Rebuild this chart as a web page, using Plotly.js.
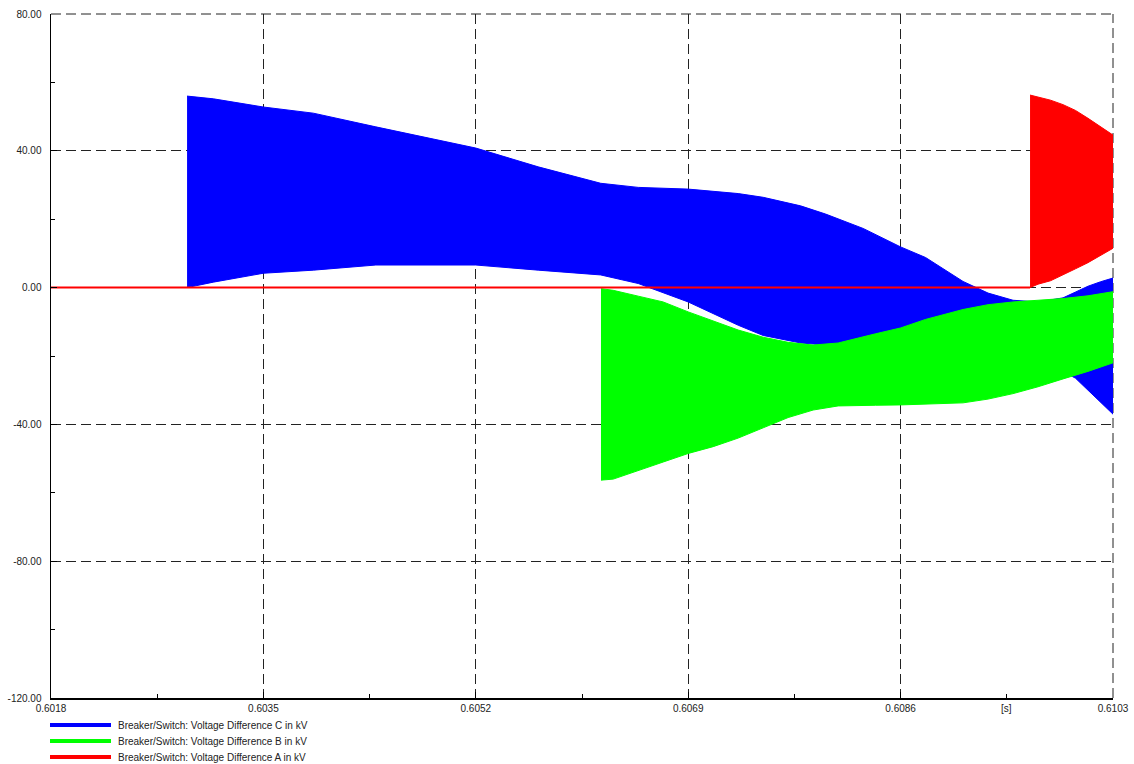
<!DOCTYPE html>
<html>
<head>
<meta charset="utf-8">
<script src="https://cdn.plot.ly/plotly-3.0.1.min.js"></script>
<style>html,body{margin:0;padding:0;background:#fff;}#chart{width:1134px;height:764px;}</style>
</head>
<body>
<div id="chart"></div>
<script>
// ---- Data (time in s, voltage difference in kV), envelopes ----
const seriesNames = [
  "Breaker/Switch: Voltage Difference C in kV",
  "Breaker/Switch: Voltage Difference B in kV",
  "Breaker/Switch: Voltage Difference A in kV"
];
const seriesColors = ["#0000FF", "#00FF00", "#FF0000"];

// Phase C (blue) oscillation envelope
const tC = [0.602889, 0.6031, 0.6035, 0.6039, 0.6044, 0.6052, 0.6057, 0.6062, 0.6065, 0.6069,
            0.6073, 0.6075, 0.6078, 0.6080, 0.6083, 0.6086, 0.6088, 0.6091, 0.6093, 0.6095,
            0.6097, 0.6099, 0.6100, 0.6101, 0.6102, 0.6103];
const upperC = [56.0, 55.2, 52.8, 51.0, 47.0, 40.8, 35.3, 30.5, 29.3, 28.8,
                27.5, 26.4, 23.9, 21.5, 17.3, 11.9, 8.8, 1.8, -1.6, -3.7,
                -4.2, -3.0, -1.3, 0.4, 1.7, 2.8];
const lowerC = [0.0, 1.6, 4.2, 5.1, 6.6, 6.6, 5.1, 3.7, 1.2, -4.2,
                -11.0, -14.0, -16.2, -16.8, -16.6, -16.2, -16.0, -16.0, -16.5, -18.0,
                -21.0, -24.5, -26.5, -30.0, -33.5, -37.0];

// Phase B (green) oscillation envelope
const tB = [0.606202, 0.6063, 0.6065, 0.6067, 0.6069, 0.6071, 0.6073, 0.6075, 0.6077, 0.6079,
            0.6081, 0.6084, 0.6086, 0.6088, 0.6091, 0.6093, 0.6095, 0.6097, 0.6099, 0.6101, 0.6103];
const upperB = [-0.3, -0.8, -2.5, -4.2, -7.1, -9.8, -12.4, -14.5, -16.0, -16.8,
                -16.2, -13.5, -11.8, -9.3, -6.4, -5.0, -4.2, -3.7, -3.2, -2.4, -1.2];
const lowerB = [-56.3, -56.0, -53.5, -51.0, -48.5, -46.5, -44.0, -41.0, -38.0, -35.8,
                -34.6, -34.4, -34.3, -34.1, -33.7, -32.6, -31.0, -29.0, -26.7, -24.5, -22.0];

// Phase A (red): flat at zero, then oscillation envelope
const tAflat = [0.6018, 0.609636];
const vAflat = [0, 0];
const tA = [0.609636, 0.6097, 0.6098, 0.6099, 0.6100, 0.6101, 0.6102, 0.6103];
const upperA = [56.3, 55.8, 54.8, 53.5, 51.8, 49.5, 47.0, 44.6];
const lowerA = [0.0, 1.0, 2.0, 3.7, 5.5, 7.3, 9.3, 11.5];

// Axis ticks
const xTicks = [0.6018, 0.6035, 0.6052, 0.6069, 0.6086, 0.6103];
const xTickText = ["0.6018", "0.6035", "0.6052", "0.6069", "0.6086", "0.6103"];
const xMinor = [0.60265, 0.60435, 0.60605, 0.60775, 0.60945];
const yTicks = [-120, -80, -40, 0, 40, 80];
const yTickText = ["-120.00", "-80.00", "-40.00", "0.00", "40.00", "80.00"];
const yMinor = [-100, -60, -20, 20, 60];
const xUnitLabel = "[s]";

// ---- Build traces ----
function band(t, up, lo, color) {
  const x = t.concat(t.slice().reverse());
  const y = up.concat(lo.slice().reverse());
  return {
    x: x, y: y, type: "scatter", mode: "lines", fill: "toself",
    fillcolor: color, line: {color: color, width: 1},
    hoverinfo: "skip", showlegend: false
  };
}

const traces = [
  band(tC, upperC, lowerC, seriesColors[0]),
  band(tB, upperB, lowerB, seriesColors[1]),
  {x: tAflat, y: vAflat, type: "scatter", mode: "lines",
   line: {color: seriesColors[2], width: 2}, showlegend: false, hoverinfo: "skip"},
  band(tA, upperA, lowerA, seriesColors[2])
];

// ---- Legend drawn below the plot ----
const W = 1134, H = 764, mL = 51, mR = 21, mT = 14, mB = 66;
const pw = W - mL - mR, ph = H - mT - mB;
function px2x(p) { return (p - mL) / pw; }
function py2y(p) { return (H - mB - p) / ph; }
const legendY = [725, 741, 757];
const shapes = [
  // dashed grid lines along the top and right edges
  {type: "line", xref: "paper", yref: "paper", x0: 0, x1: 1, y0: 1, y1: 1, layer: "below",
   line: {color: "#222", width: 1, dash: "10px,5px"}},
  {type: "line", xref: "paper", yref: "paper", x0: 1, x1: 1, y0: 0, y1: 1, layer: "below",
   line: {color: "#222", width: 1, dash: "10px,5px"}}
];
const annotations = [];
for (let i = 0; i < 3; i++) {
  shapes.push({type: "line", xref: "paper", yref: "paper",
    x0: px2x(50), x1: px2x(111), y0: py2y(legendY[i]), y1: py2y(legendY[i]),
    line: {color: seriesColors[i], width: 4}});
  annotations.push({xref: "paper", yref: "paper", x: px2x(116), y: py2y(legendY[i]),
    xanchor: "left", yanchor: "middle", showarrow: false, text: seriesNames[i],
    font: {family: "Liberation Sans, Arial, sans-serif", size: 10, color: "#222"}});
}
annotations.push({xref: "x", yref: "paper", x: xMinor[4], y: 0, yanchor: "top", yshift: -3,
  showarrow: false, text: xUnitLabel,
  font: {family: "Liberation Sans, Arial, sans-serif", size: 10, color: "#222"}});

const tickFont = {family: "Liberation Sans, Arial, sans-serif", size: 10, color: "#222"};

const layout = {
  width: W, height: H,
  margin: {l: mL, r: mR, t: mT, b: mB, pad: 0},
  paper_bgcolor: "#fff", plot_bgcolor: "#fff",
  showlegend: false,
  xaxis: {
    range: [0.6018, 0.6103], tickmode: "array", tickvals: xTicks, ticktext: xTickText,
    ticks: "inside", ticklen: 6, tickcolor: "#000", tickwidth: 1,
    showgrid: true, gridcolor: "#222", gridwidth: 1, griddash: "10px,5px",
    zeroline: false, showline: true, linecolor: "#000", linewidth: 1.5,
    tickfont: tickFont, automargin: false,
    minor: {tickmode: "array", tickvals: xMinor, ticks: "inside", ticklen: 4, tickcolor: "#000", showgrid: false}
  },
  yaxis: {
    range: [-120, 80], tickmode: "array", tickvals: yTicks, ticktext: yTickText,
    ticks: "inside", ticklen: 6, tickcolor: "#000", tickwidth: 1,
    showgrid: true, gridcolor: "#222", gridwidth: 1, griddash: "10px,5px",
    zeroline: false, showline: true, linecolor: "#000", linewidth: 1.5,
    tickfont: tickFont, automargin: false, ticklabelstandoff: 6,
    minor: {tickmode: "array", tickvals: yMinor, ticks: "inside", ticklen: 4, tickcolor: "#000", showgrid: false}
  },
  shapes: shapes,
  annotations: annotations
};

Plotly.newPlot("chart", traces, layout, {displayModeBar: false, staticPlot: true});
</script>
</body>
</html>
